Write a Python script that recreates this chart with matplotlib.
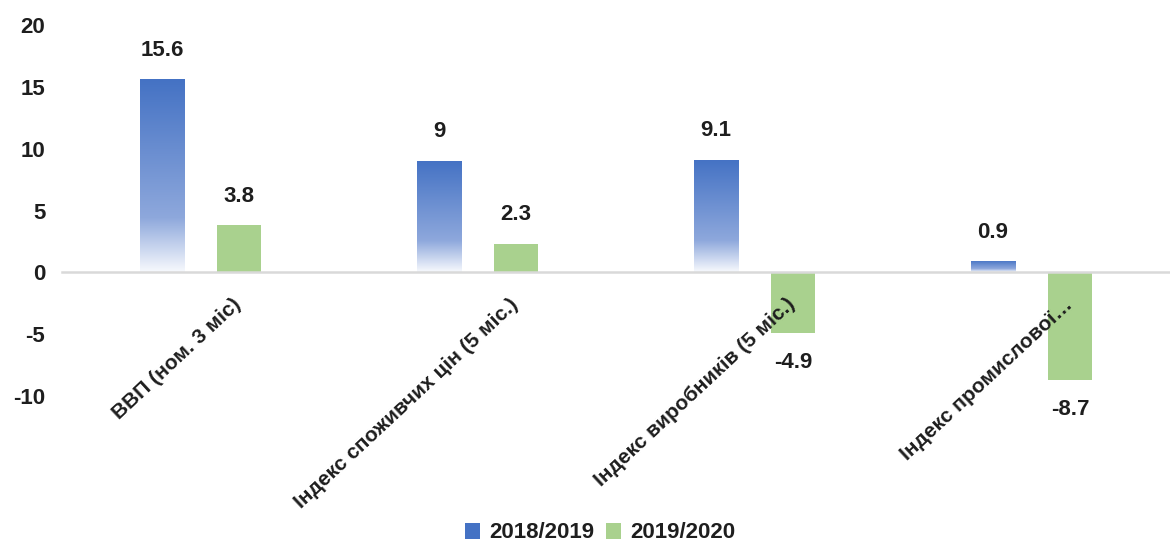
import matplotlib.pyplot as plt
import matplotlib.transforms as mtransforms
from matplotlib.colors import LinearSegmentedColormap
from matplotlib.patches import Patch
import numpy as np

categories = ["ВВП (ном. 3 міс)", "Індекс споживчих цін (5 міс.)",
              "Індекс виробників (5 міс.)", "Індекс промислової…"]
vals_1819 = [15.6, 9, 9.1, 0.9]
vals_1920 = [3.8, 2.3, -4.9, -8.7]
series = ["2018/2019", "2019/2020"]
yticks = [-10, -5, 0, 5, 10, 15, 20]

plt.rcParams['font.family'] = ['Liberation Sans', 'DejaVu Sans']
plt.rcParams['font.weight'] = 'bold'
plt.rcParams['axes.unicode_minus'] = False
txt = '#1e1e1e'

blue = '#4472C4'
green = '#A9D18E'
fade = LinearSegmentedColormap.from_list(
    'fade', [(0, '#f7f9fd'), (0.28, '#8ea8dc'), (1, blue)])

fig = plt.figure(figsize=(11.7, 5.44), dpi=100)
ax = fig.add_axes([0.053, 0.272, 0.947, 0.682])
ax.set_axisbelow(False)  # category labels sit on top of the bars

x = np.arange(len(categories))
w = 0.16
off = 0.139
b1 = ax.bar(x - off, vals_1819, w, color=blue, zorder=2)
b2 = ax.bar(x + off, vals_1920, w, color=green, zorder=2)

# blue bars fade out toward the bottom
grad = np.linspace(0, 1, 256).reshape(-1, 1)
for p in b1:
    x0, y0 = p.get_x(), p.get_y()
    im = ax.imshow(grad, cmap=fade, origin='lower', aspect='auto',
                   extent=[x0, x0 + p.get_width(), y0, y0 + p.get_height()],
                   zorder=2)
    im.set_clip_path(p)
    p.set_facecolor('none')

for bars, vals in [(b1, vals_1819), (b2, vals_1920)]:
    for p, v in zip(bars, vals):
        ax.annotate(f"{v:g}", (p.get_x() + p.get_width() / 2, v),
                    xytext=(0, 21 if v >= 0 else -21), textcoords='offset points',
                    ha='center', va='center', fontsize=16, fontweight='bold', color=txt)

ax.set_xlim(-0.5, len(categories) - 0.5)
ax.set_ylim(-10, 20)
ax.set_yticks(yticks)
ax.tick_params(axis='y', length=0, pad=12, labelsize=16, labelcolor=txt)

for s in ['top', 'right', 'left']:
    ax.spines[s].set_visible(False)
ax.spines['bottom'].set_position(('data', 0))
ax.spines['bottom'].set_color('#d9d9d9')
ax.spines['bottom'].set_linewidth(1.8)

ax.set_xticks(x)
ax.set_xticklabels(categories, rotation=43, ha='right', va='center',
                   rotation_mode='anchor', fontsize=15, color=txt)
ax.tick_params(axis='x', length=0, pad=21)
shift = mtransforms.ScaledTranslation(0.38, 0, fig.dpi_scale_trans)
for lbl in ax.get_xticklabels():
    lbl.set_transform(lbl.get_transform() + shift)

handles = [Patch(facecolor=blue), Patch(facecolor=green)]
fig.legend(handles, series, loc='center', bbox_to_anchor=(600 / 1170, 1 - 533 / 544),
           ncol=2, frameon=False, fontsize=16, handlelength=0.7, handleheight=0.7,
           columnspacing=0.5, handletextpad=0.4, labelcolor=txt)

fig.savefig('out.png', dpi=100)
